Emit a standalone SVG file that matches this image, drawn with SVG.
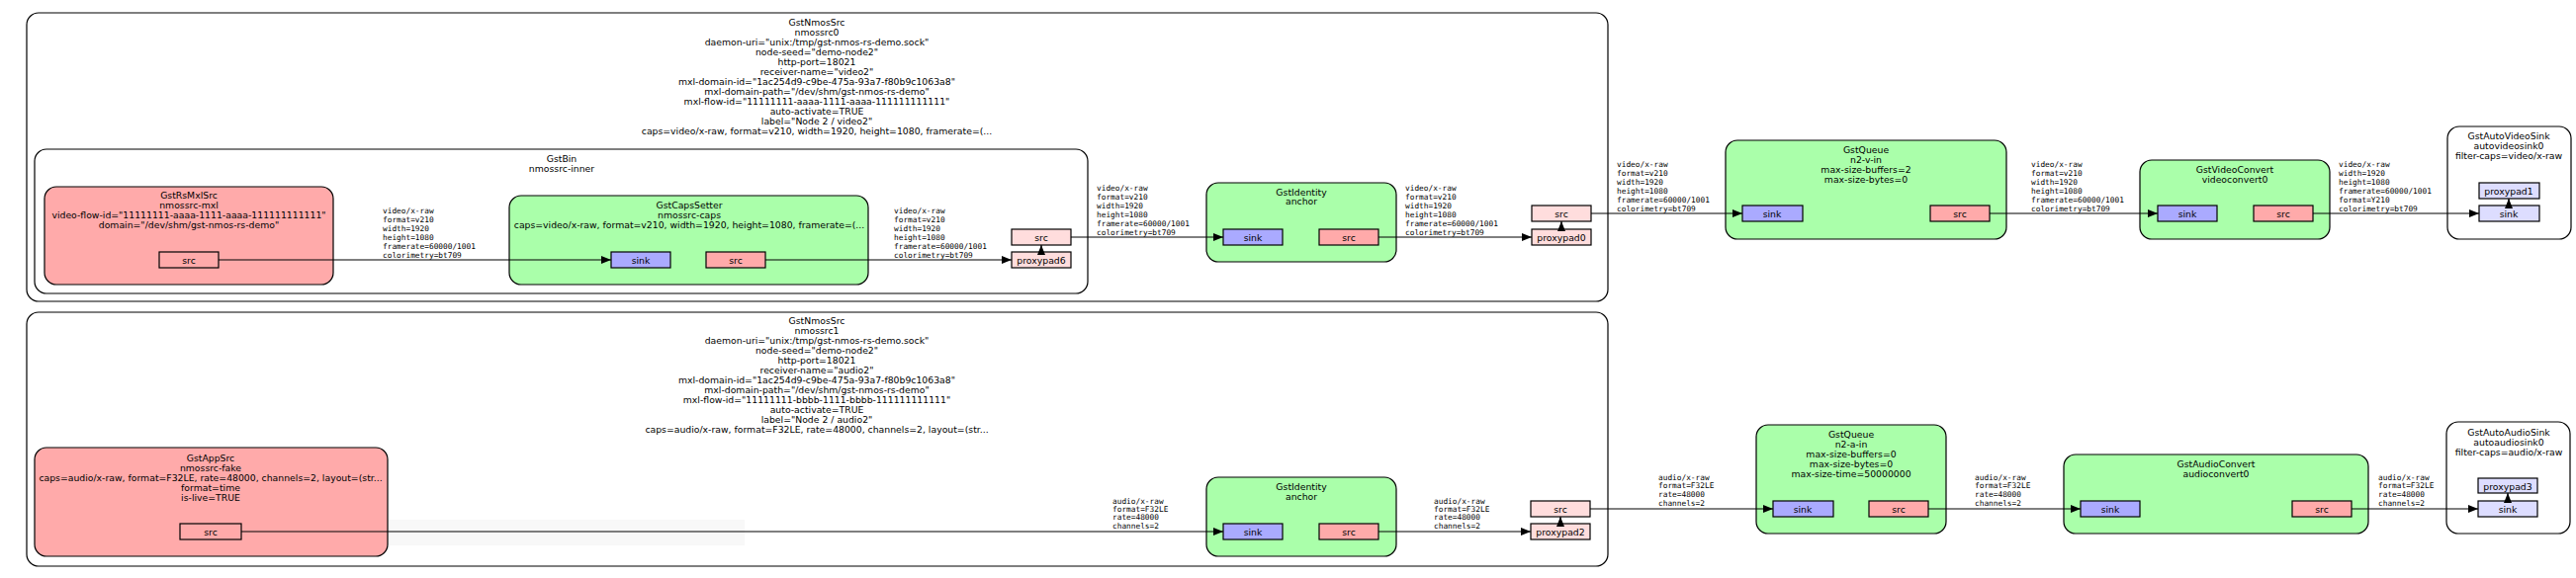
<svg xmlns="http://www.w3.org/2000/svg" width="2605" height="585" viewBox="0 0 2605 585">
<style>
text{font-family:"DejaVu Sans",sans-serif;font-size:9.3px;fill:#000;text-anchor:middle;dominant-baseline:central}
.lbl{font-family:"DejaVu Sans Mono",monospace;font-size:7.8px;text-anchor:start}
.cl{fill:#fff;stroke:#000;stroke-width:1.2}
.el{fill:#aaffaa;stroke:#000;stroke-width:1.2}
.src{fill:#ffaaaa;stroke:#000;stroke-width:1.2}
.sink{fill:#aaaaff;stroke:#000;stroke-width:1.2}
.gsrc{fill:#ffdddd;stroke:#000;stroke-width:1.2}
.gsink{fill:#ddddff;stroke:#000;stroke-width:1.2}
.e{stroke:#000;stroke-width:1.2;fill:none;marker-end:url(#ah)}
</style>
<defs><marker id="ah" markerWidth="10" markerHeight="8" refX="10" refY="4" orient="auto" markerUnits="userSpaceOnUse"><path d="M0,0L10,4L0,8Z" fill="#000"/></marker></defs>
<rect width="2605" height="585" fill="#fff"/>

<g id="nmossrc0">
<rect class="cl" x="27" y="13" width="1599" height="292" rx="12"/>
<text x="826" y="22">GstNmosSrc</text><text x="826" y="32">nmossrc0</text>
<text x="826" y="42">daemon-uri="unix:/tmp/gst-nmos-rs-demo.sock"</text>
<text x="826" y="52">node-seed="demo-node2"</text><text x="826" y="62">http-port=18021</text>
<text x="826" y="72">receiver-name="video2"</text>
<text x="826" y="82">mxl-domain-id="1ac254d9-c9be-475a-93a7-f80b9c1063a8"</text>
<text x="826" y="92">mxl-domain-path="/dev/shm/gst-nmos-rs-demo"</text>
<text x="826" y="102">mxl-flow-id="11111111-aaaa-1111-aaaa-111111111111"</text>
<text x="826" y="112">auto-activate=TRUE</text><text x="826" y="122">label="Node 2 / video2"</text>
<text x="826" y="132">caps=video/x-raw, format=v210, width=1920, height=1080, framerate=(...</text>
<rect class="gsrc" x="1549" y="208" width="60" height="16"/><text x="1579" y="216">src</text>
<rect class="gsrc" x="1549" y="232" width="60" height="16"/><text x="1579" y="240">proxypad0</text>
</g>
<g id="nmossrc-inner">
<rect class="cl" x="35" y="151" width="1065" height="146" rx="12"/>
<text x="568" y="160">GstBin</text><text x="568" y="170">nmossrc-inner</text>
<rect class="gsrc" x="1023" y="232" width="60" height="16"/><text x="1053" y="240">src</text>
<rect class="gsrc" x="1023" y="255" width="60" height="16"/><text x="1053" y="263">proxypad6</text>
</g>
<g id="nmossrc-mxl">
<rect class="src" x="45" y="189" width="292" height="99" rx="12"/>
<text x="191" y="197">GstRsMxlSrc</text><text x="191" y="207">nmossrc-mxl</text>
<text x="191" y="217">video-flow-id="11111111-aaaa-1111-aaaa-111111111111"</text>
<text x="191" y="227">domain="/dev/shm/gst-nmos-rs-demo"</text>
<rect class="src" x="161" y="255" width="60" height="16"/><text x="191" y="263">src</text>
</g>
<g id="nmossrc-caps">
<rect class="el" x="515" y="198" width="363" height="90" rx="12"/>
<text x="697" y="207">GstCapsSetter</text><text x="697" y="217">nmossrc-caps</text>
<text x="697" y="227">caps=video/x-raw, format=v210, width=1920, height=1080, framerate=(...</text>
<rect class="sink" x="618" y="255" width="60" height="16"/><text x="648" y="263">sink</text>
<rect class="src" x="714" y="255" width="60" height="16"/><text x="744" y="263">src</text>
</g>
<g id="anchor-v">
<rect class="el" x="1220" y="185" width="192" height="80" rx="12"/>
<text x="1316" y="194">GstIdentity</text><text x="1316" y="203">anchor</text>
<rect class="sink" x="1237" y="232" width="60" height="16"/><text x="1267" y="240">sink</text>
<rect class="src" x="1334" y="232" width="60" height="16"/><text x="1364" y="240">src</text>
</g>
<g id="n2-v-in">
<rect class="el" x="1745" y="142" width="284" height="100" rx="12"/>
<text x="1887" y="151">GstQueue</text><text x="1887" y="161">n2-v-in</text>
<text x="1887" y="171">max-size-buffers=2</text><text x="1887" y="181">max-size-bytes=0</text>
<rect class="sink" x="1762" y="208" width="61" height="16"/><text x="1792" y="216">sink</text>
<rect class="src" x="1952" y="208" width="60" height="16"/><text x="1982" y="216">src</text>
</g>
<g id="videoconvert0">
<rect class="el" x="2164" y="162" width="192" height="80" rx="12"/>
<text x="2260" y="171">GstVideoConvert</text><text x="2260" y="181">videoconvert0</text>
<rect class="sink" x="2182" y="208" width="60" height="16"/><text x="2212" y="216">sink</text>
<rect class="src" x="2279" y="208" width="60" height="16"/><text x="2309" y="216">src</text>
</g>
<g id="autovideosink0">
<rect class="cl" x="2475" y="128" width="125" height="114" rx="12"/>
<text x="2537" y="137">GstAutoVideoSink</text><text x="2537" y="147">autovideosink0</text><text x="2537" y="157">filter-caps=video/x-raw</text>
<rect class="gsink" x="2507" y="185" width="61" height="16"/><text x="2537" y="193">proxypad1</text>
<rect class="gsink" x="2507" y="208" width="61" height="16"/><text x="2537" y="216">sink</text>
</g>

<g id="nmossrc1">
<rect class="cl" x="27" y="316" width="1599" height="257" rx="12"/>
<text x="826" y="324">GstNmosSrc</text><text x="826" y="334">nmossrc1</text>
<text x="826" y="344">daemon-uri="unix:/tmp/gst-nmos-rs-demo.sock"</text>
<text x="826" y="354">node-seed="demo-node2"</text><text x="826" y="364">http-port=18021</text>
<text x="826" y="374">receiver-name="audio2"</text>
<text x="826" y="384">mxl-domain-id="1ac254d9-c9be-475a-93a7-f80b9c1063a8"</text>
<text x="826" y="394">mxl-domain-path="/dev/shm/gst-nmos-rs-demo"</text>
<text x="826" y="404">mxl-flow-id="11111111-bbbb-1111-bbbb-111111111111"</text>
<text x="826" y="414">auto-activate=TRUE</text><text x="826" y="424">label="Node 2 / audio2"</text>
<text x="826" y="434">caps=audio/x-raw, format=F32LE, rate=48000, channels=2, layout=(str...</text>
<rect x="392" y="526" width="361" height="26" fill="#f8f8f8"/>
<rect class="gsrc" x="1548" y="507" width="60" height="16"/><text x="1578" y="515">src</text>
<rect class="gsrc" x="1548" y="530" width="60" height="16"/><text x="1578" y="538">proxypad2</text>
</g>
<g id="nmossrc-fake">
<rect class="src" x="35" y="453" width="357" height="110" rx="12"/>
<text x="213" y="463">GstAppSrc</text><text x="213" y="473">nmossrc-fake</text>
<text x="213" y="483">caps=audio/x-raw, format=F32LE, rate=48000, channels=2, layout=(str...</text>
<text x="213" y="493">format=time</text><text x="213" y="503">is-live=TRUE</text>
<rect class="src" x="182" y="530" width="62" height="16"/><text x="213" y="538">src</text>
</g>
<g id="anchor-a">
<rect class="el" x="1220" y="483" width="192" height="80" rx="12"/>
<text x="1316" y="492">GstIdentity</text><text x="1316" y="502">anchor</text>
<rect class="sink" x="1237" y="530" width="60" height="16"/><text x="1267" y="538">sink</text>
<rect class="src" x="1334" y="530" width="60" height="16"/><text x="1364" y="538">src</text>
</g>
<g id="n2-a-in">
<rect class="el" x="1776" y="430" width="192" height="110" rx="12"/>
<text x="1872" y="439">GstQueue</text><text x="1872" y="449">n2-a-in</text>
<text x="1872" y="459">max-size-buffers=0</text><text x="1872" y="469">max-size-bytes=0</text>
<text x="1872" y="479">max-size-time=50000000</text>
<rect class="sink" x="1793" y="507" width="61" height="16"/><text x="1823" y="515">sink</text>
<rect class="src" x="1890" y="507" width="60" height="16"/><text x="1920" y="515">src</text>
</g>
<g id="audioconvert0">
<rect class="el" x="2087" y="460" width="308" height="80" rx="12"/>
<text x="2241" y="469">GstAudioConvert</text><text x="2241" y="479">audioconvert0</text>
<rect class="sink" x="2104" y="507" width="60" height="16"/><text x="2134" y="515">sink</text>
<rect class="src" x="2318" y="507" width="60" height="16"/><text x="2348" y="515">src</text>
</g>
<g id="autoaudiosink0">
<rect class="cl" x="2474" y="427" width="125" height="113" rx="12"/>
<text x="2537" y="437">GstAutoAudioSink</text><text x="2537" y="447">autoaudiosink0</text><text x="2537" y="457">filter-caps=audio/x-raw</text>
<rect class="gsink" x="2506" y="484" width="60" height="15"/><text x="2536" y="492">proxypad3</text>
<rect class="gsink" x="2506" y="507" width="60" height="16"/><text x="2536" y="515">sink</text>
</g>

<g id="connectors">
<path class="e" d="M221,263H618"/>
<path class="e" d="M774,263H1023"/>
<path class="e" d="M1053,255V248"/>
<path class="e" d="M1083,240H1237"/>
<path class="e" d="M1394,240H1549"/>
<path class="e" d="M1579,232V224"/>
<path class="e" d="M1609,216H1762"/>
<path class="e" d="M2012,216H2182"/>
<path class="e" d="M2339,216H2507"/>
<path class="e" d="M2537,208V201"/>
<path class="e" d="M244,538H1237"/>
<path class="e" d="M1394,538H1548"/>
<path class="e" d="M1578,530V523"/>
<path class="e" d="M1608,515H1793"/>
<path class="e" d="M1950,515H2104"/>
<path class="e" d="M2378,515H2506"/>
<path class="e" d="M2536,507V499"/>
<g class="labels">
<text class="lbl" x="387" y="213">video/x-raw</text><text class="lbl" x="387" y="222">format=v210</text><text class="lbl" x="387" y="231">width=1920</text><text class="lbl" x="387" y="240">height=1080</text><text class="lbl" x="387" y="249">framerate=60000/1001</text><text class="lbl" x="387" y="258">colorimetry=bt709</text>
<text class="lbl" x="904" y="213">video/x-raw</text><text class="lbl" x="904" y="222">format=v210</text><text class="lbl" x="904" y="231">width=1920</text><text class="lbl" x="904" y="240">height=1080</text><text class="lbl" x="904" y="249">framerate=60000/1001</text><text class="lbl" x="904" y="258">colorimetry=bt709</text>
<text class="lbl" x="1109" y="190">video/x-raw</text><text class="lbl" x="1109" y="199">format=v210</text><text class="lbl" x="1109" y="208">width=1920</text><text class="lbl" x="1109" y="217">height=1080</text><text class="lbl" x="1109" y="226">framerate=60000/1001</text><text class="lbl" x="1109" y="235">colorimetry=bt709</text>
<text class="lbl" x="1421" y="190">video/x-raw</text><text class="lbl" x="1421" y="199">format=v210</text><text class="lbl" x="1421" y="208">width=1920</text><text class="lbl" x="1421" y="217">height=1080</text><text class="lbl" x="1421" y="226">framerate=60000/1001</text><text class="lbl" x="1421" y="235">colorimetry=bt709</text>
<text class="lbl" x="1635" y="166">video/x-raw</text><text class="lbl" x="1635" y="175">format=v210</text><text class="lbl" x="1635" y="184">width=1920</text><text class="lbl" x="1635" y="193">height=1080</text><text class="lbl" x="1635" y="202">framerate=60000/1001</text><text class="lbl" x="1635" y="211">colorimetry=bt709</text>
<text class="lbl" x="2054" y="166">video/x-raw</text><text class="lbl" x="2054" y="175">format=v210</text><text class="lbl" x="2054" y="184">width=1920</text><text class="lbl" x="2054" y="193">height=1080</text><text class="lbl" x="2054" y="202">framerate=60000/1001</text><text class="lbl" x="2054" y="211">colorimetry=bt709</text>
<text class="lbl" x="2365" y="166">video/x-raw</text><text class="lbl" x="2365" y="175">width=1920</text><text class="lbl" x="2365" y="184">height=1080</text><text class="lbl" x="2365" y="193">framerate=60000/1001</text><text class="lbl" x="2365" y="202">format=Y210</text><text class="lbl" x="2365" y="211">colorimetry=bt709</text>
<text class="lbl" x="1125" y="507">audio/x-raw</text><text class="lbl" x="1125" y="515">format=F32LE</text><text class="lbl" x="1125" y="523">rate=48000</text><text class="lbl" x="1125" y="532">channels=2</text>
<text class="lbl" x="1450" y="507">audio/x-raw</text><text class="lbl" x="1450" y="515">format=F32LE</text><text class="lbl" x="1450" y="523">rate=48000</text><text class="lbl" x="1450" y="532">channels=2</text>
<text class="lbl" x="1677" y="483">audio/x-raw</text><text class="lbl" x="1677" y="491">format=F32LE</text><text class="lbl" x="1677" y="500">rate=48000</text><text class="lbl" x="1677" y="509">channels=2</text>
<text class="lbl" x="1997" y="483">audio/x-raw</text><text class="lbl" x="1997" y="491">format=F32LE</text><text class="lbl" x="1997" y="500">rate=48000</text><text class="lbl" x="1997" y="509">channels=2</text>
<text class="lbl" x="2405" y="483">audio/x-raw</text><text class="lbl" x="2405" y="491">format=F32LE</text><text class="lbl" x="2405" y="500">rate=48000</text><text class="lbl" x="2405" y="509">channels=2</text>
</g>
</g>
</svg>
